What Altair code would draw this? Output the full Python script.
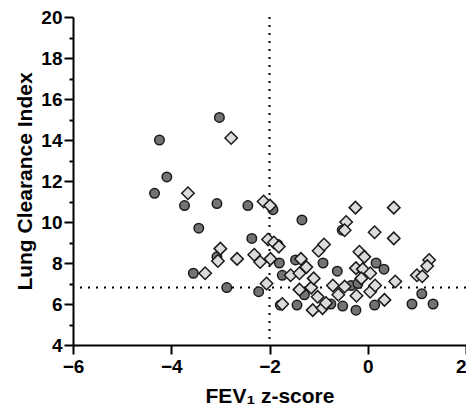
import altair as alt
import pandas as pd

# Group A (dark circles)
circ_x = [-3.02, -4.24, -4.09, -4.34, -3.73, -3.07, -2.44, -3.44, -3.55, -3.07,
          -2.87, -2.36, -2.22, -1.93, -1.34, -1.83, -1.80, -1.74, -1.78, -1.44,
          -1.47, -1.29, -0.91, -0.75, -0.62, -0.52, -0.51, -0.24, -0.34, -0.20,
          0.17, 0.33, 0.14, 0.90, 1.10, 1.33]
circ_y = [15.1, 14.0, 12.2, 11.4, 10.8, 10.9, 10.8, 9.7, 7.5, 8.3,
          6.8, 9.2, 6.6, 10.6, 10.1, 8.9, 8.0, 7.4, 5.95, 5.95,
          8.15, 6.45, 8.0, 6.0, 7.6, 9.6, 5.9, 5.7, 6.9, 7.0,
          8.0, 7.7, 5.95, 6.0, 6.5, 6.0]

# Group B (light diamonds)
diam_x = [-2.78, -3.66, -2.12, -1.99, -3.00, -3.05, -3.31, -2.66, -2.31, -2.19,
          -2.03, -1.98, -2.06, -1.91, -1.81, -1.74, -1.57, -1.39, -1.36, -1.25,
          -1.39, -1.15, -1.10, -1.12, -1.02, -1.00, -0.89, -0.92, -0.85, -0.71,
          -0.60, -0.44, -0.47, -0.47, -0.25, -0.24, -0.23, -0.17, -0.07, -0.10,
          -0.13, 0.05, 0.05, 0.14, 0.15, 0.34, 0.53, 0.53, 0.56, 1.00,
          1.11, 1.25, 1.21]
diam_y = [14.1, 11.4, 11.0, 10.8, 8.7, 8.1, 7.5, 8.2, 8.4, 8.05,
          9.15, 8.2, 7.0, 9.0, 8.8, 6.0, 7.4, 7.5, 8.2, 7.8,
          6.7, 6.8, 7.25, 5.7, 6.35, 8.6, 8.9, 5.8, 6.05, 6.9,
          6.45, 10.0, 9.6, 6.85, 10.7, 7.75, 6.4, 8.55, 8.3, 7.7,
          7.25, 7.5, 6.6, 9.5, 6.9, 6.2, 10.7, 9.2, 7.1, 7.4,
          7.35, 8.15, 7.85]

x_ticks = [-6, -4, -2, 0, 2]
y_ticks = list(range(4, 21))
ref_x = [-2]
ref_y = [6.8]

circ = pd.DataFrame({"x": circ_x, "y": circ_y})
diam = pd.DataFrame({"x": diam_x, "y": diam_y})

FONT = "Liberation Sans"

xs = alt.Scale(domain=[-6, 2], nice=False, zero=False)
ys = alt.Scale(domain=[4, 20], nice=False, zero=False)

xaxis = alt.Axis(values=x_ticks, title="FEV\u2081 z-score", grid=False,
                 domainColor="black", domainWidth=2, tickColor="black", tickWidth=2,
                 tickSize=9, labelFont=FONT, labelFontSize=19, labelFontWeight="bold",
                 labelColor="black", labelPadding=3,
                 labelAlign={"condition": {"test": "datum.value === 2", "value": "right"}, "value": "center"},
                 titleFont=FONT, titleFontSize=21,
                 titleFontWeight="bold", titleColor="black", titlePadding=9,
                 labelFlush=False, labelOverlap=False)
yaxis = alt.Axis(values=y_ticks, title="Lung Clearance Index", grid=False,
                 domainColor="black", domainWidth=2, tickColor="black", tickWidth=2,
                 tickSize={"condition": {"test": "datum.value % 2 !== 0", "value": 4}, "value": 9},
                 labelExpr="datum.value % 2 === 0 ? datum.label : ''",
                 labelFont=FONT, labelFontSize=19, labelFontWeight="bold",
                 labelColor="black", labelPadding=2, titleFont=FONT, titleFontSize=21,
                 titleFontWeight="bold", titleColor="black", titlePadding=5,
                 labelOverlap=False)

vrule = alt.Chart(pd.DataFrame({"x": ref_x})).mark_rule(
    color="black", strokeWidth=2, strokeDash=[2, 6]
).encode(x=alt.X("x:Q", scale=xs, axis=xaxis))

hrule = alt.Chart(pd.DataFrame({"y": ref_y})).mark_rule(
    color="black", strokeWidth=2, strokeDash=[2, 6]
).encode(y=alt.Y("y:Q", scale=ys, axis=yaxis))

circles = alt.Chart(circ).mark_point(
    shape="circle", filled=True, fill="#737373", stroke="#1a1a1a",
    strokeWidth=1.5, size=90, opacity=1
).encode(x=alt.X("x:Q", scale=xs, axis=xaxis), y=alt.Y("y:Q", scale=ys, axis=yaxis))

diamonds = alt.Chart(diam).mark_point(
    shape="diamond", filled=True, fill="#dcdcdc", stroke="#1a1a1a",
    strokeWidth=1.5, size=155, opacity=1
).encode(x=alt.X("x:Q", scale=xs, axis=xaxis), y=alt.Y("y:Q", scale=ys, axis=yaxis))

chart = alt.layer(vrule, hrule, circles, diamonds).properties(
    width=393, height=328,
    autosize=alt.AutoSizeParams(type="none"),
    padding={"left": 65, "top": 9, "right": 0, "bottom": 60},
    background="white",
).configure_view(stroke=None)

chart.save("out.html", embed_options={"renderer": "svg", "actions": False})
